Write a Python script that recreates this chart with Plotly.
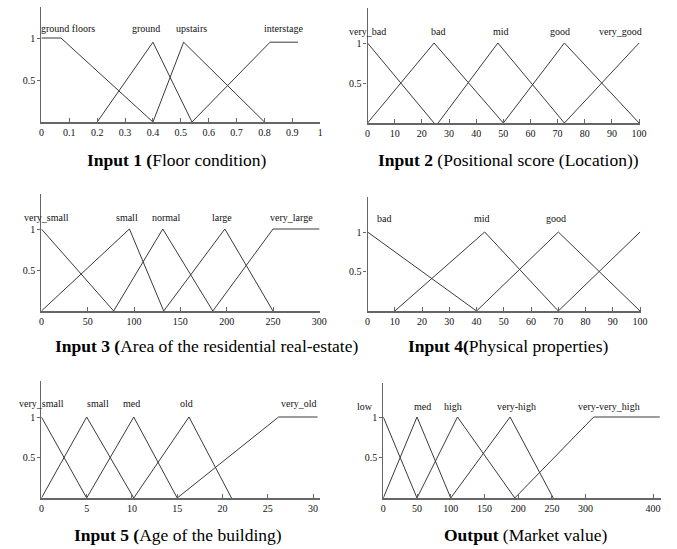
import plotly.graph_objects as go

# ---------------- data ----------------
# Panel 1: Floor condition
p1_names = ["ground floors", "ground", "upstairs", "interstage"]
p1_ground_floors_x = [0, 0.07, 0.4]
p1_ground_floors_y = [1, 1, 0]
p1_ground_x = [0.2, 0.4, 0.54]
p1_ground_y = [0, 0.95, 0]
p1_upstairs_x = [0.4, 0.51, 0.8]
p1_upstairs_y = [0, 0.95, 0]
p1_interstage_x = [0.54, 0.82, 0.92]
p1_interstage_y = [0, 0.95, 0.95]
p1_label_x = [0.095, 0.375, 0.54, 0.87]
p1_ticks = [0, 0.1, 0.2, 0.3, 0.4, 0.5, 0.6, 0.7, 0.8, 0.9, 1]

# Panel 2: Positional score (Location)
p2_names = ["very_bad", "bad", "mid", "good", "very_good"]
p2_very_bad_x = [0, 24.5]
p2_very_bad_y = [1, 0]
p2_bad_x = [0, 24.5, 50]
p2_bad_y = [0, 1, 0]
p2_mid_x = [26, 48, 72.5]
p2_mid_y = [0, 1, 0]
p2_good_x = [50, 72.5, 100]
p2_good_y = [0, 1, 0]
p2_very_good_x = [72.5, 100]
p2_very_good_y = [0, 1]
p2_label_x = [0, 26, 49, 71, 93]
p2_ticks = [0, 10, 20, 30, 40, 50, 60, 70, 80, 90, 100]

# Panel 3: Area of the residential real-estate
p3_names = ["very_small", "small", "normal", "large", "very_large"]
p3_very_small_x = [0, 78]
p3_very_small_y = [1, 0]
p3_small_x = [0, 95, 132]
p3_small_y = [0, 1, 0]
p3_normal_x = [78, 131, 185]
p3_normal_y = [0, 1, 0]
p3_large_x = [132, 198, 250]
p3_large_y = [0, 1, 0]
p3_very_large_x = [185, 250, 300]
p3_very_large_y = [0, 1, 1]
p3_label_x = [5, 92, 135, 195, 270]
p3_ticks = [0, 50, 100, 150, 200, 250, 300]

# Panel 4: Physical properties
p4_names = ["bad", "mid", "good", ""]
p4_bad_x = [0, 40]
p4_bad_y = [1, 0]
p4_mid_x = [10, 43, 70]
p4_mid_y = [0, 1, 0]
p4_good_x = [40, 70, 100]
p4_good_y = [0, 1, 0]
p4_top_x = [70, 100]
p4_top_y = [0, 1]
p4_label_x = [6, 42, 69, 0]
p4_ticks = [0, 10, 20, 30, 40, 50, 60, 70, 80, 90, 100]

# Panel 5: Age of the building
p5_names = ["very_small", "small", "med", "old", "very_old"]
p5_very_small_x = [0, 5]
p5_very_small_y = [1, 0]
p5_small_x = [0, 5, 10.2]
p5_small_y = [0, 1, 0]
p5_med_x = [5, 10.2, 15]
p5_med_y = [0, 1, 0]
p5_old_x = [10.2, 16.3, 21]
p5_old_y = [0, 1, 0]
p5_very_old_x = [15, 26.2, 30.5]
p5_very_old_y = [0, 1, 1]
p5_label_x = [0, 6.2, 10, 16, 28.5]
p5_ticks = [0, 5, 10, 15, 20, 25, 30]

# Panel 6: Output (Market value)
p6_names = ["low", "med", "high", "very-high", "very-very_high"]
p6_low_x = [0, 50]
p6_low_y = [1, 0]
p6_med_x = [0, 50, 100]
p6_med_y = [0, 1, 0]
p6_high_x = [50, 110, 195]
p6_high_y = [0, 1, 0]
p6_very_high_x = [100, 188, 252]
p6_very_high_y = [0, 1, 0]
p6_vv_high_x = [195, 312, 410]
p6_vv_high_y = [0, 1, 1]
p6_label_x = [0, 58, 103, 198, 335]
p6_ticks = [0, 50, 100, 150, 200, 250, 300, 400]

# ---------------- layout helpers ----------------
W, H = 677, 549
SERIF = "Liberation Serif"
LINE = "#3a3a3a"


def fx(px):
    return min(1.0, max(0.0, px / W))


def fy(py):
    return min(1.0, max(0.0, 1 - py / H))


panels = [
    dict(series=[(p1_ground_floors_x, p1_ground_floors_y), (p1_ground_x, p1_ground_y),
                 (p1_upstairs_x, p1_upstairs_y), (p1_interstage_x, p1_interstage_y)],
         names=p1_names, lx=p1_label_x, ticks=p1_ticks, xr=[0, 1.0],
         px=(39, 322), py=(122, 7), y1=38, ly=28,
         title="<b>Input 1 (</b>Floor condition)", tx=177, ty=160),
    dict(series=[(p2_very_bad_x, p2_very_bad_y), (p2_bad_x, p2_bad_y), (p2_mid_x, p2_mid_y),
                 (p2_good_x, p2_good_y), (p2_very_good_x, p2_very_good_y)],
         names=p2_names, lx=p2_label_x, ticks=p2_ticks, xr=[0, 100.5],
         px=(370, 647), py=(123, 8), y1=43, ly=32,
         title="<b>Input 2</b> (Positional score (Location))", tx=513, ty=160),
    dict(series=[(p3_very_small_x, p3_very_small_y), (p3_small_x, p3_small_y),
                 (p3_normal_x, p3_normal_y), (p3_large_x, p3_large_y),
                 (p3_very_large_x, p3_very_large_y)],
         names=p3_names, lx=p3_label_x, ticks=p3_ticks, xr=[0, 301],
         px=(39, 322), py=(311, 194), y1=229, ly=217,
         title="<b>Input 3 (</b>Area of the residential real-estate)", tx=207, ty=346),
    dict(series=[(p4_bad_x, p4_bad_y), (p4_mid_x, p4_mid_y), (p4_good_x, p4_good_y),
                 (p4_top_x, p4_top_y)],
         names=p4_names, lx=p4_label_x, ticks=p4_ticks, xr=[0, 100.5],
         px=(370, 648), py=(311, 197), y1=232, ly=218,
         title="<b>Input 4(</b>Physical properties)", tx=513, ty=346),
    dict(series=[(p5_very_small_x, p5_very_small_y), (p5_small_x, p5_small_y),
                 (p5_med_x, p5_med_y), (p5_old_x, p5_old_y), (p5_very_old_x, p5_very_old_y)],
         names=p5_names, lx=p5_label_x, ticks=p5_ticks, xr=[0, 30.8],
         px=(39, 322), py=(498, 381), y1=417, ly=403,
         title="<b>Input 5 (</b>Age of the building)", tx=178, ty=535),
    dict(series=[(p6_low_x, p6_low_y), (p6_med_x, p6_med_y), (p6_high_x, p6_high_y),
                 (p6_very_high_x, p6_very_high_y), (p6_vv_high_x, p6_vv_high_y)],
         names=p6_names, lx=p6_label_x, ticks=p6_ticks, xr=[0, 412],
         px=(386, 668), py=(498, 383), y1=417, ly=406,
         title="<b>Output</b> (Market value)", tx=530, ty=535,
         first_label_left=True),
]

fig = go.Figure()
annotations = []
layout_axes = {}

for i, p in enumerate(panels, start=1):
    xa = "x" if i == 1 else f"x{i}"
    ya = "y" if i == 1 else f"y{i}"
    bottom, top = p["py"]
    ytop = (bottom - top) / (bottom - p["y1"])
    for (xs, ys) in p["series"]:
        fig.add_trace(go.Scatter(x=xs, y=ys, mode="lines", xaxis=xa, yaxis=ya,
                                 line=dict(color=LINE, width=1), showlegend=False,
                                 hoverinfo="skip", cliponaxis=False))
    ylab = (bottom - p["ly"]) / (bottom - p["y1"])
    for k, (name, lx) in enumerate(zip(p["names"], p["lx"])):
        if not name:
            continue
        ann = dict(x=lx, y=ylab, xref=xa, yref=ya, text=name, showarrow=False,
                   font=dict(family=SERIF, size=10, color="#111"),
                   xanchor="center", yanchor="middle")
        if k == 0 and p.get("first_label_left"):
            ann.update(xanchor="right", xshift=-8)
        annotations.append(ann)
    annotations.append(dict(x=fx(p["tx"]), y=fy(p["ty"]), xref="paper", yref="paper",
                            text=p["title"], showarrow=False,
                            font=dict(family=SERIF, size=17.5, color="#000"),
                            xanchor="center", yanchor="middle"))
    ticktext = [("%g" % t) for t in p["ticks"]]
    layout_axes["xaxis" if i == 1 else f"xaxis{i}"] = dict(
        domain=[fx(p["px"][0]), fx(p["px"][1])], range=p["xr"], anchor=ya,
        tickvals=p["ticks"], ticktext=ticktext, showgrid=False, zeroline=False,
        showline=True, linecolor="#666", linewidth=1.5, ticks="inside", ticklen=4,
        tickcolor="#666", tickfont=dict(family=SERIF, size=10, color="#111"), fixedrange=True)
    layout_axes["yaxis" if i == 1 else f"yaxis{i}"] = dict(
        domain=[fy(bottom), fy(top)], range=[0, ytop], anchor=xa,
        tickvals=[0.5, 1], ticktext=["0.5", "1"], showgrid=False, zeroline=False,
        showline=True, linecolor="#666", linewidth=1.2, ticks="outside", ticklen=3,
        tickcolor="#666", tickfont=dict(family=SERIF, size=10, color="#111"), fixedrange=True)

fig.update_layout(width=W, height=H, margin=dict(l=0, r=0, t=0, b=0),
                  paper_bgcolor="white", plot_bgcolor="white",
                  annotations=annotations, **layout_axes)

fig.write_html("out.html", config={"displayModeBar": False},
               post_script="document.body.style.margin='0';document.body.style.overflow='hidden';")
